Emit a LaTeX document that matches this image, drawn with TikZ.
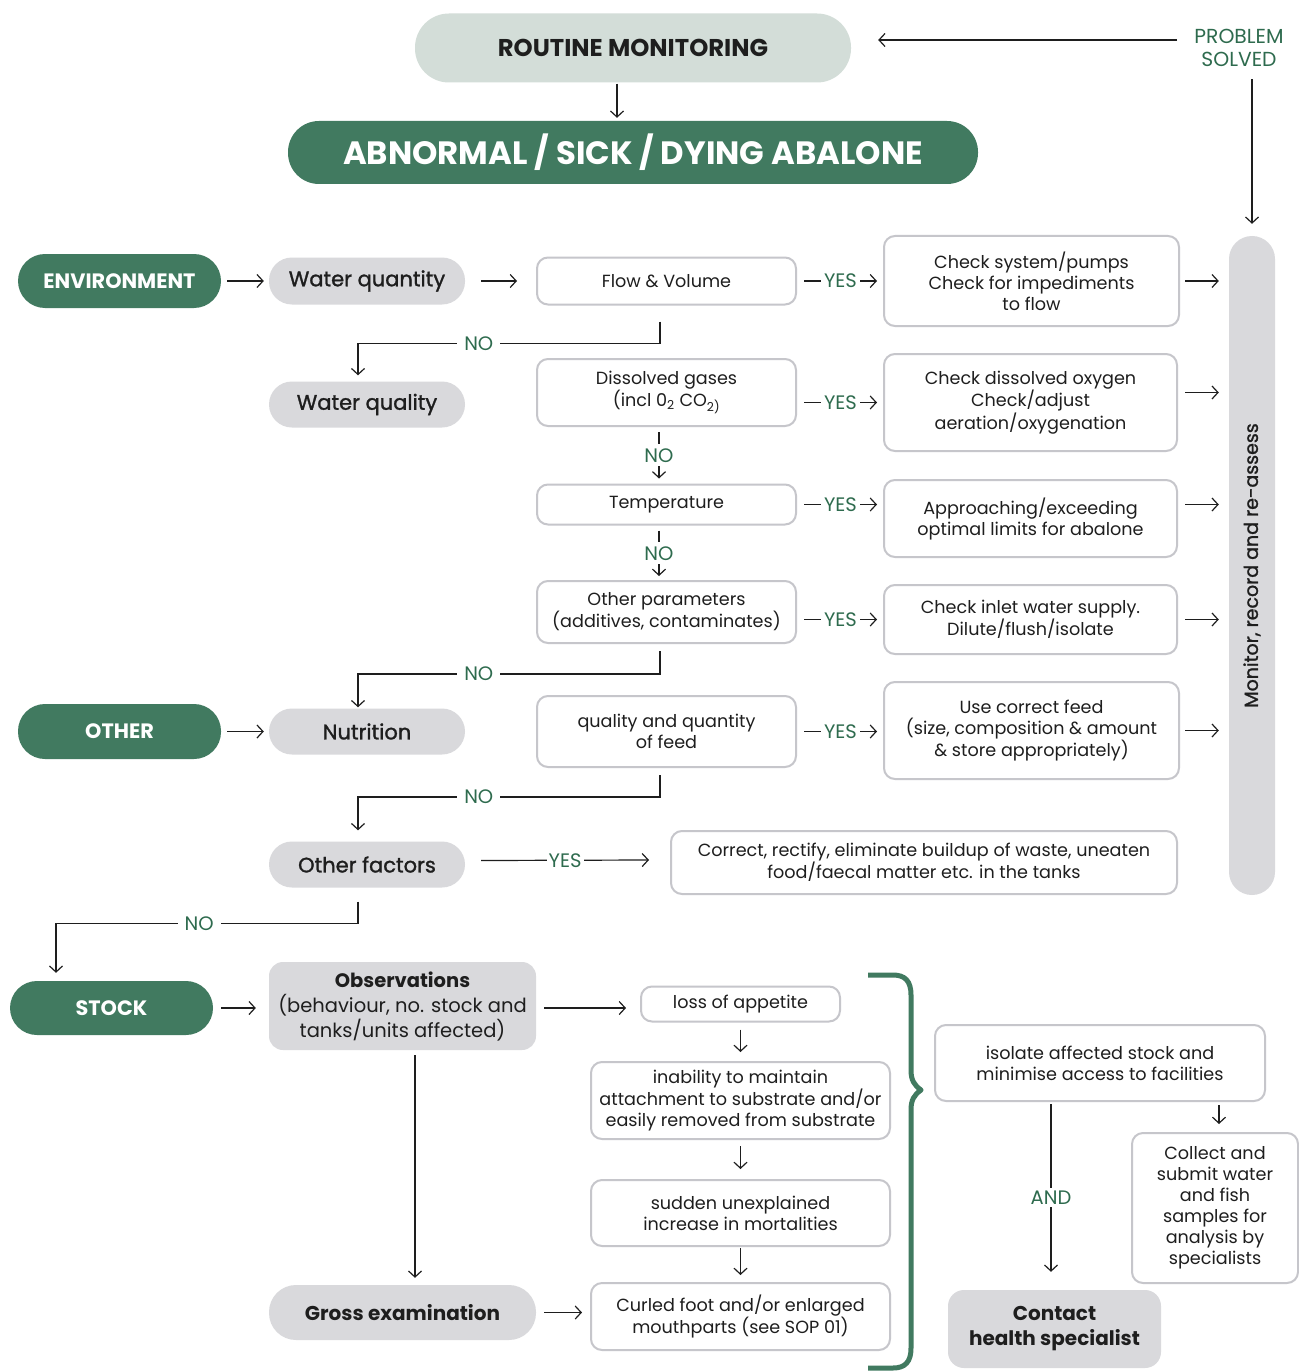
\documentclass[tikz,border=0pt]{standalone}
\usepackage{fontspec}
\usepackage{graphicx}
\setmainfont{Poppins}
\newfontfamily\medf[FakeBold=1.3]{Poppins}
\usetikzlibrary{arrows.meta}
\definecolor{dgreen}{HTML}{417A60}
\definecolor{lgreen}{HTML}{D3DDD8}
\definecolor{lgrey}{HTML}{D9D9DC}
\definecolor{bgrey}{HTML}{C6C6CB}
\definecolor{tgreen}{HTML}{2E6B4E}
\definecolor{ink}{HTML}{1E1E1E}
\begin{document}
\begin{tikzpicture}[x=1pt,y=-1pt,
  wbox/.style={draw=bgrey, line width=2pt, rounded corners=11pt, fill=white, align=center, inner sep=0pt, text=ink, font=\fontsize{17.6}{21}\selectfont},
  gpill/.style={fill=lgrey, align=center, inner sep=0pt, text=ink, font=\medf\fontsize{21}{25}\selectfont},
  gbold/.style={fill=lgrey, align=center, inner sep=0pt, text=ink, font=\bfseries\fontsize{20}{25}\selectfont},
  dpill/.style={fill=dgreen, align=center, inner sep=0pt, text=white, font=\bfseries\fontsize{20.8}{24}\selectfont},
  arr/.style={-{Straight Barb[length=6pt,width=13pt]}, line width=1.2pt, draw=ink},
  lbl/.style={fill=white, text=tgreen, font=\fontsize{19.5}{22}\selectfont, inner xsep=4pt, inner ysep=2pt},
  vlbl/.style={lbl, inner xsep=2pt, inner ysep=0pt, minimum height=22pt},
  ]
\useasboundingbox[fill=white] (0,0) rectangle (1298,1372);

% top
\node[fill=lgreen, rounded corners=34pt, minimum width=436, minimum height=69, inner sep=0pt, text=ink, font=\bfseries\fontsize{24.3}{28}\selectfont] (routine) at (633,48) {ROUTINE MONITORING};
\node[dpill, rounded corners=31pt, minimum width=690, minimum height=63, font=\bfseries\fontsize{32.3}{36}\selectfont] (abn) at (633,152.5) {ABNORMAL / SICK / DYING ABALONE};
\node[lbl, align=center, font=\fontsize{20.3}{23}\selectfont, inner sep=1pt] (ps) at (1239,47.5) {PROBLEM\\SOLVED};
\node[fill=lgrey, rounded corners=23pt, minimum width=46, minimum height=659, inner sep=0pt, text=ink, font=\medf\fontsize{19}{23}\selectfont] (mon) at (1252,565.5) {\rotatebox{90}{Monitor, record and re-assess}};

% left column
\node[dpill, rounded corners=27pt, minimum width=203, minimum height=54] (env) at (119.5,281) {ENVIRONMENT};
\node[dpill, rounded corners=27pt, minimum width=203, minimum height=55] (other) at (119.5,731.5) {OTHER};
\node[dpill, rounded corners=27pt, minimum width=203, minimum height=54] (stock) at (111.5,1008) {STOCK};
\node[gpill, rounded corners=23pt, minimum width=196, minimum height=47] (wqty) at (367,281) {Water quantity};
\node[gpill, rounded corners=23pt, minimum width=196, minimum height=46] (wqual) at (367,404.5) {Water quality};
\node[gpill, rounded corners=23pt, minimum width=196, minimum height=46] (nutr) at (367,731.5) {Nutrition};
\node[gpill, rounded corners=23pt, minimum width=196, minimum height=46] (ofac) at (367,864.5) {Other factors};
\node[gpill, rounded corners=14pt, minimum width=267, minimum height=88, font=\fontsize{19.5}{25}\selectfont] (obs) at (402.5,1006) {{\bfseries Observations}\\(behaviour, no. stock and\\tanks/units affected)};
\node[gbold, rounded corners=27pt, minimum width=267, minimum height=55] (gross) at (402.5,1312.5) {Gross examination};
\node[gbold, rounded corners=16pt, minimum width=213, minimum height=78] (contact) at (1054.5,1329) {Contact\\health specialist};

% question boxes
\node[wbox, minimum width=259, minimum height=47] (flow) at (666.5,281) {Flow \& Volume};
\node[wbox, minimum width=259, minimum height=67] (dgas) at (666.5,392.5) {Dissolved gases\\(incl 0\textsubscript{2} CO\textsubscript{2)}};
\node[wbox, minimum width=259, minimum height=40] (temp) at (666.5,504.5) {Temperature};
\node[wbox, minimum width=259, minimum height=62] (oth) at (666.5,612) {Other parameters\\(additives, contaminates)};
\node[wbox, minimum width=259, minimum height=71] (qual) at (666.5,731.5) {quality and quantity\\of feed};

% action boxes
\node[wbox, minimum width=295, minimum height=90] (chk1) at (1031.5,281) {Check system/pumps\\Check for impediments\\to flow};
\node[wbox, minimum width=293, minimum height=97] (chk2) at (1030.5,402.5) {Check dissolved oxygen\\Check/adjust\\aeration/oxygenation};
\node[wbox, minimum width=293, minimum height=77] (appr) at (1030.5,518.5) {Approaching/exceeding\\optimal limits for abalone};
\node[wbox, minimum width=293, minimum height=69] (chk4) at (1030.5,619.5) {Check inlet water supply.\\Dilute/flush/isolate};
\node[wbox, minimum width=295, minimum height=97] (feed) at (1031.5,730.5) {Use correct feed\\(size, composition \& amount\\\& store appropriately)};
\node[wbox, minimum width=506, minimum height=63] (corr) at (924,862.5) {Correct, rectify, eliminate buildup of waste, uneaten\\food/faecal matter etc. in the tanks};

% stock boxes
\node[wbox, minimum width=199, minimum height=35] (loss) at (740.5,1004) {loss of appetite};
\node[wbox, minimum width=299, minimum height=77] (inab) at (740.5,1100.5) {inability to maintain\\attachment to substrate and/or\\easily removed from substrate};
\node[wbox, minimum width=299, minimum height=66] (sudd) at (740.5,1213) {sudden unexplained\\increase in mortalities};
\node[wbox, minimum width=299, minimum height=67] (curl) at (740.5,1316.5) {Curled foot and/or enlarged\\mouthparts (see SOP 01)};
\node[wbox, minimum width=330, minimum height=76] (isol) at (1100,1063) {isolate affected stock and\\minimise access to facilities};
\node[wbox, minimum width=166, minimum height=150] (coll) at (1215,1208) {Collect and\\submit water\\and fish\\samples for\\analysis by\\specialists};

% brace
\draw[dgreen, line width=5pt, line join=round] (868,975) -- (893,975) .. controls (905,975) and (911,981) .. (911,995) -- (911,1070) .. controls (911,1080) and (914,1085) .. (921,1090) .. controls (914,1095) and (911,1100) .. (911,1110) -- (911,1348) .. controls (911,1362) and (905,1368) .. (893,1368) -- (868,1368);

% top connectors
\draw[arr] ([xshift=-16,yshift=-1]routine.south) -- ([xshift=-16,yshift=3]abn.north);
\draw[arr] ([xshift=-16,yshift=7.5]ps.west) -- ([xshift=27,yshift=8]routine.east);
\draw[arr] ([yshift=-12]ps.south -| mon.north) -- ([yshift=12]mon.north);

% horizontal arrows
\draw[arr] ([xshift=6]env.east) -- ([xshift=-5]wqty.west);
\draw[arr] ([xshift=16]wqty.east) -- ([xshift=-19]flow.west);
\draw[arr] ([xshift=6]other.east) -- ([xshift=-5]nutr.west |- other.east);
\draw[arr] ([xshift=8]stock.east) -- ([xshift=-13]obs.west |- stock.east);
\draw[arr] ([xshift=8,yshift=-2]obs.east) -- ([xshift=-14,yshift=-4]loss.west);
\draw[arr] ([xshift=8]gross.east) -- ([xshift=-8]curl.west |- gross.east);

% YES arrows
\draw[arr] ([xshift=7]flow.east) -- node[lbl, inner xsep=3pt]{YES} ([xshift=-6]chk1.west);
\draw[arr] ([xshift=7]dgas.east |- chk2.west) -- node[lbl, inner xsep=3pt]{YES} ([xshift=-6]chk2.west);
\draw[arr] ([xshift=7]temp.east) -- node[lbl, inner xsep=3pt]{YES} ([xshift=-6]appr.west |- temp.east);
\draw[arr] ([xshift=7]oth.east |- chk4.west) -- node[lbl, inner xsep=3pt]{YES} ([xshift=-6]chk4.west);
\draw[arr] ([xshift=7]qual.east) -- node[lbl, inner xsep=3pt]{YES} ([xshift=-6]feed.west |- qual.east);
\draw[arr] ([xshift=16,yshift=4]ofac.east) -- node[lbl, inner xsep=2pt]{YES} ([xshift=-21,yshift=2.5]corr.west);

% arrows to monitor bar
\draw[arr, shorten >=10pt] ([xshift=5]chk1.east) -- (mon.west |- chk1.east);
\draw[arr, shorten >=10pt] ([xshift=7]chk2.east |- dgas.east) -- (mon.west |- dgas.east);
\draw[arr, shorten >=10pt] ([xshift=7]appr.east |- temp.east) -- (mon.west |- temp.east);
\draw[arr, shorten >=10pt] ([xshift=7]chk4.east) -- (mon.west |- chk4.east);
\draw[arr, shorten >=10pt] ([xshift=5]feed.east) -- (mon.west |- feed.east);

% NO connectors
\draw[arr] ([xshift=-6.5,yshift=-16]flow.south) -- ++(0,22) -| node[lbl, pos=0.3, inner xsep=7pt]{NO} ([xshift=-9,yshift=6]wqual.north);
\draw[arr] ([xshift=-7.5,yshift=-5]dgas.south) -- node[vlbl]{NO} ([xshift=-7.5,yshift=5]temp.north);
\draw[arr] ([xshift=-7.5,yshift=-5]temp.south) -- node[vlbl]{NO} ([xshift=-7.5,yshift=4]oth.north);
\draw[arr] ([xshift=-6.5,yshift=-7]oth.south) -- ++(0,23) -| node[lbl, pos=0.3, inner xsep=7pt]{NO} ([xshift=-9,yshift=1]nutr.north);
\draw[arr] ([xshift=-6.5,yshift=-7]qual.south) -- ++(0,22) -| node[lbl, pos=0.3, inner xsep=7pt]{NO} ([xshift=-9,yshift=11]ofac.north);
\draw[arr] ([xshift=-9,yshift=-14]ofac.south) -- ++(0,22) -| node[lbl, pos=0.263, inner xsep=7pt]{NO} ([xshift=-55.5,yshift=8]stock.north);

% stock chain
\draw[arr] ([yshift=-7]loss.south) -- ([yshift=9]inab.north);
\draw[arr] ([yshift=-6]inab.south) -- ([yshift=10]sudd.north);
\draw[arr] ([yshift=-1]sudd.south) -- ([yshift=7]curl.north);
\draw[arr] ([xshift=12.5,yshift=-5]obs.south) -- ([xshift=12.5,yshift=7]gross.north);
\draw[arr] ([xshift=119,yshift=-3]isol.south) -- ([xshift=4,yshift=8]coll.north);
\draw[arr] ([xshift=-49,yshift=-2]isol.south) -- node[lbl, pos=0.556, inner ysep=3pt]{AND} ([xshift=-3.5,yshift=18]contact.north);
\end{tikzpicture}
\end{document}
